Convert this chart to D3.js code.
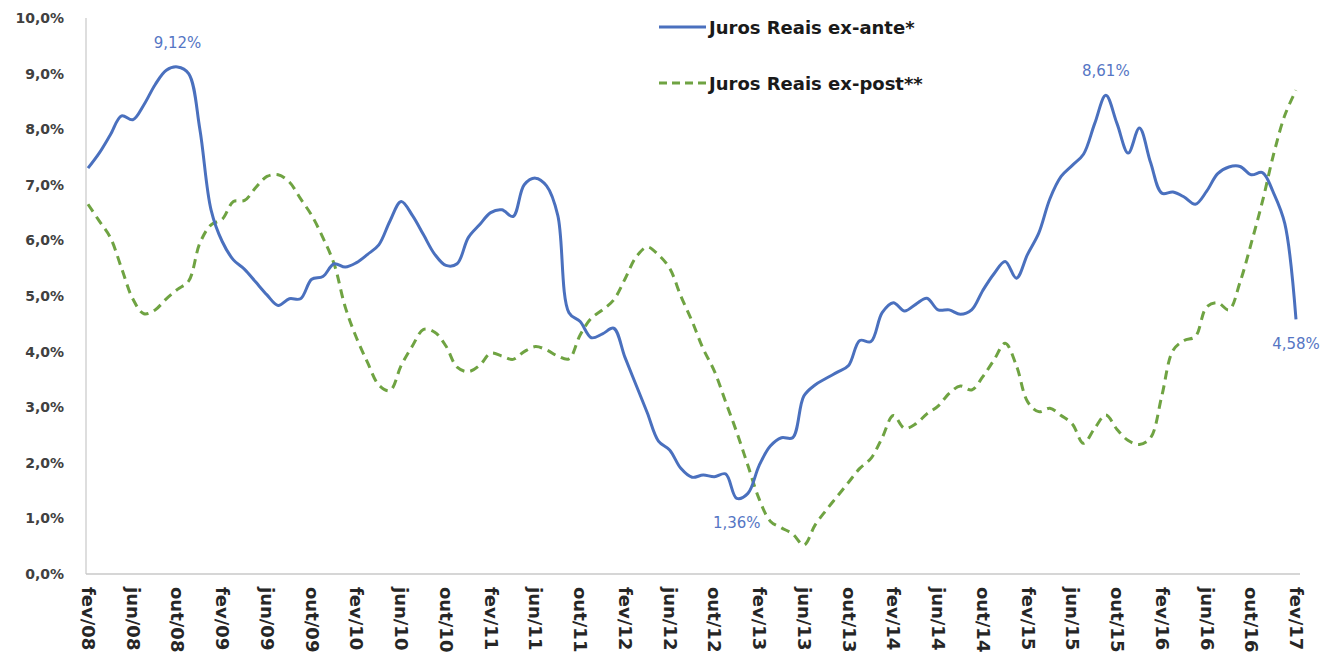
<!DOCTYPE html>
<html>
<head>
<meta charset="utf-8">
<script src="https://cdn.jsdelivr.net/npm/d3@7"></script>
<style>
  html, body { margin: 0; padding: 0; background: #ffffff; }
  svg { display: block; }
</style>
</head>
<body>
<svg id="chart" width="1325" height="660"></svg>
<script>
// ---- DATA ----
const monthNames = ["jan","fev","mar","abr","mai","jun","jul","ago","set","out","nov","dez"];
// monthly categories fev/08 .. fev/17
const categories = [];
for (let k = 0; k < 109; k++) {
  const m = (1 + k) % 12;
  const yy = 8 + Math.floor((1 + k) / 12);
  categories.push(monthNames[m] + "/" + String(yy).padStart(2, "0"));
}
const tickLabels = ["fev/08","jun/08","out/08","fev/09","jun/09","out/09","fev/10","jun/10","out/10",
  "fev/11","jun/11","out/11","fev/12","jun/12","out/12","fev/13","jun/13","out/13","fev/14","jun/14",
  "out/14","fev/15","jun/15","out/15","fev/16","jun/16","out/16","fev/17"];
const yTicks = [0,1,2,3,4,5,6,7,8,9,10];

const exAnte = [7.30,7.57,7.90,8.24,8.17,8.44,8.80,9.06,9.12,9.00,8.00,6.55,5.98,5.65,5.48,5.25,5.02,4.83,4.95,4.95,
  5.30,5.35,5.58,5.52,5.60,5.75,5.92,6.35,6.70,6.45,6.10,5.75,5.55,5.58,6.05,6.28,6.50,6.55,6.43,7.00,
  7.12,6.98,6.45,4.70,4.54,4.25,4.32,4.42,3.90,3.40,2.90,2.39,2.23,1.90,1.74,1.78,1.75,1.80,1.36,1.45,
  1.95,2.30,2.45,2.45,3.20,3.40,3.52,3.63,3.75,4.20,4.18,4.70,4.88,4.73,4.85,4.96,4.75,4.75,4.67,4.75,
  5.10,5.40,5.62,5.32,5.75,6.13,6.75,7.15,7.35,7.55,8.10,8.61,8.10,7.57,8.02,7.40,6.85,6.87,6.78,6.65,
  6.88,7.20,7.32,7.33,7.18,7.22,6.85,6.30,4.58];

const exPost = [6.65,6.35,6.05,5.50,4.95,4.68,4.75,4.95,5.12,5.27,5.95,6.28,6.38,6.70,6.72,6.95,7.15,7.18,7.05,6.75,
  6.45,6.05,5.58,4.80,4.25,3.80,3.40,3.30,3.75,4.10,4.40,4.35,4.10,3.72,3.64,3.75,3.97,3.92,3.86,4.00,
  4.09,4.03,3.92,3.87,4.30,4.60,4.75,4.93,5.30,5.70,5.88,5.74,5.50,5.00,4.55,4.05,3.65,3.10,2.55,1.95,
  1.35,0.95,0.83,0.72,0.52,0.88,1.15,1.40,1.65,1.90,2.08,2.45,2.85,2.62,2.70,2.88,3.02,3.25,3.38,3.31,
  3.55,3.85,4.15,3.75,3.10,2.92,2.98,2.85,2.70,2.35,2.62,2.86,2.60,2.40,2.33,2.45,3.20,4.02,4.20,4.27,
  4.80,4.88,4.75,5.25,5.95,6.70,7.55,8.25,8.70];

const seriesNames = ["Juros Reais ex-ante*", "Juros Reais ex-post**"];
// annotated points: [category, value, position]
const annotations = [
  ["out/08", 9.12, "above"],
  ["dez/12", 1.36, "below"],
  ["set/15", 8.61, "above"],
  ["fev/17", 4.58, "below"]
];
// ---- END DATA ----

const fmtPct = v => v.toFixed(1).replace(".", ",") + "%";
const fmtPct2 = v => v.toFixed(2).replace(".", ",") + "%";

const svg = d3.select("#chart");
const blue = "#4a70be";
const green = "#6fa342";

const x = d3.scalePoint().domain(categories).range([88, 1296]);
const y = d3.scaleLinear().domain([0, 10]).range([574, 18]);

// axes lines
svg.append("line").attr("x1", 86).attr("x2", 86).attr("y1", y(10)).attr("y2", y(0))
  .attr("stroke", "#c8c8c8").attr("stroke-width", 1.2);
svg.append("line").attr("x1", 86).attr("x2", 1300).attr("y1", y(0)).attr("y2", y(0))
  .attr("stroke", "#c8c8c8").attr("stroke-width", 1.5);

// y axis labels
const yAxis = d3.axisLeft(y).tickValues(yTicks).tickSize(0).tickPadding(22).tickFormat(fmtPct);
const gy = svg.append("g").attr("transform", "translate(86,0)").call(yAxis);
gy.select(".domain").remove();
gy.selectAll("text")
  .attr("font-family", "DejaVu Sans, sans-serif")
  .attr("font-weight", "bold")
  .attr("font-size", 14)
  .attr("fill", "#404040");

// x axis labels
const tickCats = categories.filter((c, i) => i % 4 === 0);
const xAxis = d3.axisBottom(x).tickValues(tickCats).tickSize(0).tickFormat((d, i) => tickLabels[i]);
const gx = svg.append("g").attr("transform", `translate(0,${y(0)})`).call(xAxis);
gx.select(".domain").remove();
gx.selectAll("text")
  .attr("font-family", "DejaVu Sans, sans-serif")
  .attr("font-weight", "bold")
  .attr("font-size", 18)
  .attr("fill", "#262626")
  .attr("text-anchor", "start")
  .attr("dy", null)
  .attr("y", 0)
  .attr("dominant-baseline", "central")
  .attr("transform", "translate(0,13) rotate(90)");

// lines
const line = d3.line()
  .x((d, i) => x(categories[i]))
  .y(d => y(d))
  .curve(d3.curveCatmullRom.alpha(0.5));

svg.append("path").datum(exPost)
  .attr("d", line).attr("fill", "none")
  .attr("stroke", green).attr("stroke-width", 3)
  .attr("stroke-dasharray", "9,6");

svg.append("path").datum(exAnte)
  .attr("d", line).attr("fill", "none")
  .attr("stroke", blue).attr("stroke-width", 3);

// annotations
annotations.forEach(([c, v, pos]) => {
  svg.append("text")
    .attr("x", x(c))
    .attr("y", pos === "above" ? y(v) - 24 : y(v) + 25)
    .attr("text-anchor", "middle")
    .attr("dominant-baseline", "central")
    .attr("font-family", "DejaVu Sans, sans-serif")
    .attr("font-size", 15)
    .attr("fill", "#5576c4")
    .text(fmtPct2(v));
});

// legend
const legend = svg.append("g");
[[27, null], [83, "8,5"]].forEach(([ly, dash], i) => {
  const l = legend.append("line")
    .attr("x1", 659).attr("x2", 706).attr("y1", ly).attr("y2", ly)
    .attr("stroke", i === 0 ? blue : green).attr("stroke-width", 3);
  if (dash) l.attr("stroke-dasharray", dash);
  legend.append("text")
    .attr("x", 709).attr("y", ly)
    .attr("dominant-baseline", "central")
    .attr("font-family", "DejaVu Sans, sans-serif")
    .attr("font-weight", "bold")
    .attr("font-size", 18)
    .attr("fill", "#1a1a1a")
    .text(seriesNames[i]);
});
</script>
</body>
</html>
